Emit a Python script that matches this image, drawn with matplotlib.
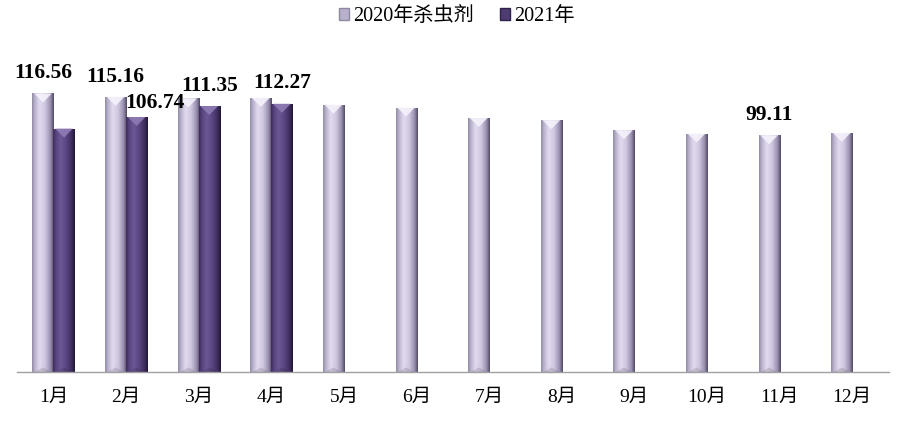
import numpy as np
import matplotlib
matplotlib.use("Agg")
import matplotlib.pyplot as plt
from matplotlib.colors import LinearSegmentedColormap
from matplotlib.patches import Polygon, Patch

# data
months = ['1月', '2月', '3月', '4月', '5月', '6月', '7月', '8月', '9月', '10月', '11月', '12月']
sales_2020 = [116.56, 115.16, 114.5, 114.7, 111.9, 110.7, 106.3, 105.4, 101.2, 99.8, 99.11, 100.1]
sales_2021 = [101.9, 106.74, 111.35, 112.27]
series_names = ['2020年杀虫剂', '2021年']

# which bars get a value label: (series index, month index)
labelled = [(0, 0), (0, 1), (1, 1), (1, 2), (1, 3), (0, 10)]

SERIF_CJK = ['Liberation Serif', 'Noto Sans CJK SC', 'DejaVu Sans']
plt.rcParams['font.family'] = SERIF_CJK

light_cmap = LinearSegmentedColormap.from_list('light', [
    (0.0, '#8e88a0'), (0.12, '#b8b0cc'), (0.35, '#e2dbef'),
    (0.6, '#cfc6e0'), (0.85, '#988eae'), (1.0, '#4e465e')])
dark_cmap = LinearSegmentedColormap.from_list('dark', [
    (0.0, '#3a2a58'), (0.12, '#56427c'), (0.35, '#6c5896'),
    (0.6, '#5a4682'), (0.85, '#3e2e5e'), (1.0, '#1e1630')])
top_colors = ['#f6f2fb', '#8e7cb4']
base_colors = ['#c9c1dc', '#5b4784']

fig = plt.figure(figsize=(9.04, 4.30), dpi=100)
ax = fig.add_axes([0.019, 0.134, 0.964, 0.779])

bar_w = 0.29
x = np.arange(len(months))
ax.set_xlim(-0.5, len(months) - 0.5)
ax.set_ylim(0, 140)
ax.set_autoscale_on(False)

bars_2020 = ax.bar(x - bar_w / 2, sales_2020, bar_w, color=base_colors[0], zorder=2)
bars_2021 = ax.bar(x[:len(sales_2021)] + bar_w / 2, sales_2021, bar_w, color=base_colors[1], zorder=2)

# pixels -> data units for the bevel depth
px_per_unit_y = ax.bbox.height / (ax.get_ylim()[1] - ax.get_ylim()[0])
top_depth = 9 / px_per_unit_y
bot_depth = 5 / px_per_unit_y

grad = np.linspace(0, 1, 256).reshape(1, -1)
for s, (bars, cmap) in enumerate([(bars_2020, light_cmap), (bars_2021, dark_cmap)]):
    for rect in bars:
        x0, w, h = rect.get_x(), rect.get_width(), rect.get_height()
        im = ax.imshow(grad, cmap=cmap, aspect='auto', extent=[x0, x0 + w, 0, h],
                       zorder=3, interpolation='bicubic')
        im.set_clip_path(rect)
        # lit top facet
        ax.add_patch(Polygon([[x0 + w * 0.08, h], [x0 + w * 0.92, h], [x0 + w / 2, h - top_depth]],
                             closed=True, facecolor=top_colors[s], edgecolor='none',
                             alpha=0.9, zorder=4))
        # shaded bottom facet
        ax.add_patch(Polygon([[x0 + w * 0.1, 0], [x0 + w * 0.9, 0], [x0 + w / 2, bot_depth]],
                             closed=True, facecolor='black', edgecolor='none',
                             alpha=0.12, zorder=4))

# value labels (the 2月 2021 label was nudged right in the original)
nudges = {(1, 1): (13, 6.5)}
all_bars = [bars_2020, bars_2021]
all_vals = [sales_2020, sales_2021]
for s, m in labelled:
    rect = all_bars[s][m]
    dx, dy = nudges.get((s, m), (0, 11))
    ax.annotate(f'{all_vals[s][m]:.2f}', (rect.get_x() + rect.get_width() / 2, rect.get_height()),
                xytext=(dx, dy), textcoords='offset points', ha='center', va='baseline',
                fontsize=15.5, fontweight='bold', family=['Liberation Serif'], color='black',
                zorder=6)

ax.set_xticks(x)
ax.set_xticklabels(months, fontsize=14)
ax.tick_params(axis='x', length=0, pad=12)
ax.set_yticks([])
for side in ['left', 'right', 'top']:
    ax.spines[side].set_visible(False)
ax.spines['bottom'].set_color('#a0a0a0')
ax.spines['bottom'].set_linewidth(1.0)
ax.spines['bottom'].set_zorder(5)

handles = [Patch(facecolor='#b8b0cc', edgecolor='#8e88a0'),
           Patch(facecolor='#4e3b72', edgecolor='#2e2248')]
fig.legend(handles, series_names, loc='upper center', bbox_to_anchor=(0.505, 1.025),
           ncol=2, frameon=False, fontsize=14.5, handlelength=0.5, handleheight=0.5,
           handletextpad=0.2, columnspacing=1.3)

fig.savefig('out.png', dpi=100)
